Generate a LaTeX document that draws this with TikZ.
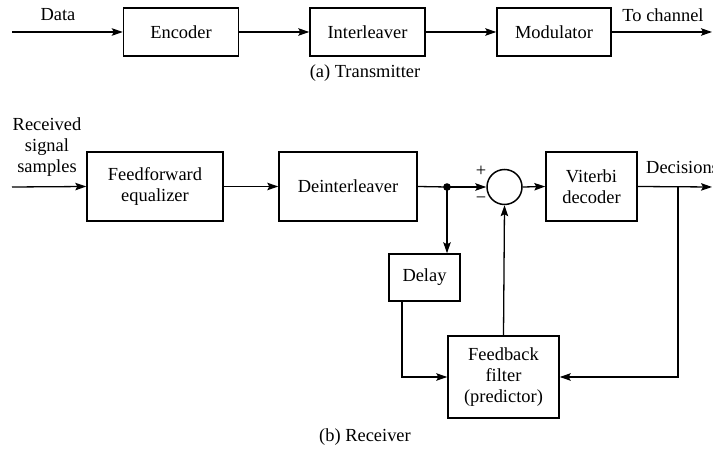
\documentclass[tikz,border=0pt]{standalone}
\usepackage{fontspec}
\setmainfont{Liberation Serif}
\usetikzlibrary{arrows.meta}
\begin{document}
\begin{tikzpicture}[x=1bp,y=-1bp,
  font=\fontsize{18.5}{21}\selectfont,
  blk/.style={draw,line width=1.5pt,inner sep=0pt,align=center},
  conn/.style={line width=1.3pt},
  arr/.style={conn,-{Stealth[length=11pt,width=7.5pt,inset=2pt]}},
  lbl/.style={inner sep=0pt,align=center}]
\useasboundingbox (0,0) rectangle (713,456);
% Transmitter
\coordinate (din) at (12,32);
\coordinate (dout) at (712,32);
\node[blk,minimum width=115bp,minimum height=48bp] (enc) at (181,32) {Encoder};
\node[blk,minimum width=115bp,minimum height=48bp] (inter) at (367.5,32) {Interleaver};
\node[blk,minimum width=114bp,minimum height=48bp] (mod) at (554,32) {Modulator};
\node[lbl] (ldata) at (58,15) {Data};
\node[lbl] (lchan) at (663,15) {To channel};
\node[lbl] (capa) at (365,73) {(a) Transmitter};
\draw[arr] (din) -- (enc.west);
\draw[arr] (enc.east) -- (inter.west);
\draw[arr] (inter.east) -- (mod.west);
\draw[arr] (mod.east) -- (dout);
% Receiver
\coordinate (rin) at (12,187);
\coordinate (rout) at (712,187);
\node[blk,minimum width=136bp,minimum height=69bp] (ff) at (155,186.5) {Feedforward\\equalizer};
\node[blk,minimum width=138bp,minimum height=69bp] (deint) at (348,186.5) {Deinterleaver};
\node[draw,circle,line width=1.5pt,minimum size=35bp,inner sep=0pt] (sum) at (504.5,187) {};
\node[blk,minimum width=91bp,minimum height=69bp] (vit) at (591.5,186.5) {Viterbi\\decoder};
\node[blk,minimum width=71bp,minimum height=47bp] (delay) at (424.5,277.5) {Delay};
\node[blk,minimum width=111bp,minimum height=82bp] (fb) at (503.5,377) {Feedback\\filter\\(predictor)};
\node[lbl] (lrec) at (47,147) {Received\\signal\\samples};
\node[lbl,anchor=west] (ldec) at (646,167) {Decisions};
\node[lbl] (lplus) at (481,171) {+};
\node[lbl] (lminus) at (481,200) {−};
\node[lbl] (capb) at (365,437) {(b) Receiver};
\coordinate (dot) at (447,187);
\coordinate (br) at (678,187);
\coordinate (dly) at (402,301);
\fill (dot) circle (3.8bp);
\draw[arr] (rin) -- (ff.west);
\draw[arr] (ff.east) -- (deint.west);
\draw[conn] (deint.east) -- (dot);
\draw[arr] (dot) -- (sum.west);
\draw[arr] (dot) -- (dot |- delay.north);
\draw[arr] (sum.east) -- (vit.west);
\draw[arr] (vit.east) -- (rout);
\draw[arr] (br) |- (fb.east);
\draw[arr] (dly) |- (fb.west);
\draw[arr] (fb.north) -- (sum.south);
\end{tikzpicture}
\end{document}
